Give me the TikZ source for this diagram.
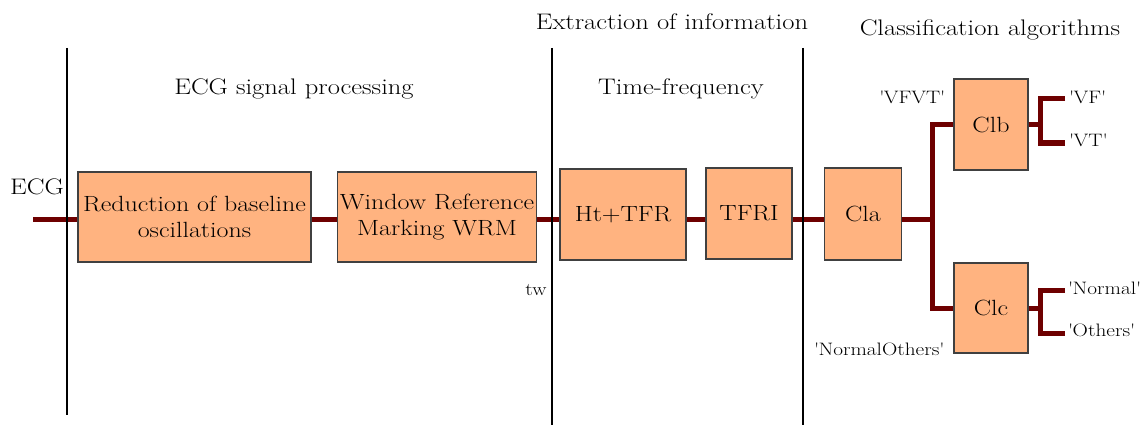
\documentclass[tikz,border=0pt]{standalone}
\usepackage{fontspec}
\setmainfont{Latin Modern Roman}[FakeStretch=1.18]
\usetikzlibrary{calc}
\definecolor{boxfill}{HTML}{FFB380}
\definecolor{wire}{HTML}{6E0000}
\newcommand{\sq}{\textquotesingle}
\tikzset{
  stage/.style={draw=black!75, line width=1.1pt, fill=boxfill, align=center,
    inner sep=2pt, font=\fontsize{22}{26}\selectfont},
  wirel/.style={draw=wire, line width=5pt},
  divider/.style={draw=black, line width=2.6pt},
  title/.style={font=\fontsize{22.5}{26}\selectfont},
  lab/.style={font=\fontsize{18}{21}\selectfont, inner sep=1pt},
}
\begin{document}
\begin{tikzpicture}[x=1pt,y=-1pt]
\useasboundingbox (0,0) rectangle (1148,425);

% section dividers
\coordinate (d1t) at (67,48);  \coordinate (d1b) at (67,415);
\coordinate (d2t) at (552,48); \coordinate (d2b) at (552,425);
\coordinate (d3t) at (803,48); \coordinate (d3b) at (803,425);

% section titles
\node[title] (tsig) at (294,89) {ECG signal processing};
\node[title] (ttf) at (681,89) {Time-frequency};
\node[title] (text) at (672,22) {Extraction of information};
\node[title] (tcls) at (990,30) {Classification algorithms};

% main signal level
\coordinate (main) at (0,219);
\coordinate (ecgin) at (33,219);
\node[title, anchor=west, inner sep=0pt] (ecg) at (10,187) {ECG};

% processing stages
\node[stage, minimum width=233pt, minimum height=90pt] (b1) at (194.5,217)
  {Reduction of baseline\\oscillations};
\node[stage, minimum width=198pt, minimum height=90pt] (b2) at (437,217)
  {Window Reference\\Marking WRM};
\node[stage, minimum width=126pt, minimum height=91pt] (b3) at (623,214.5) {Ht+TFR};
\node[stage, minimum width=86pt, minimum height=91pt] (b4) at (749,213.5) {TFRI};
\node[stage, minimum width=77pt, minimum height=92pt] (b5) at (863,214) {Cla};
\node[stage, minimum width=74pt, minimum height=91pt] (clb) at (991,124.5) {Clb};
\node[stage, minimum width=74pt, minimum height=90pt] (clc) at (991,308) {Clc};

\node[lab] (tw) at (536,290) {tw};
\node[lab] (vfvt) at (912,97) {\sq VFVT\sq};
\node[lab] (normoth) at (879,349) {\sq NormalOthers\sq};

% wiring between stages
\coordinate (fork) at (932,219);
\draw[wirel] (ecgin) -- (b1.west |- main);
\draw[wirel] (b1.east |- main) -- (b2.west |- main);
\draw[wirel] (b2.east |- main) -- (b3.west |- main);
\draw[wirel] (b3.east |- main) -- (b4.west |- main);
\draw[wirel] (b4.east |- main) -- (b5.west |- main);
\draw[wirel] (b5.east |- main) -- (fork);
\draw[wirel] (clb.west) -| (fork) |- (clc.west);

% outputs of the second-level classifiers
\coordinate (vfend) at (1065,99);
\coordinate (vtend) at (1065,143);
\coordinate (normend) at (1065,290);
\coordinate (othend) at (1065,333);
\coordinate (bsplit) at ($(clb.east)+(12,0)$);
\coordinate (csplit) at ($(clc.east)+(12,0)$);
\draw[wirel] (clb.east) -- (bsplit);
\draw[wirel] (vfend) -| (bsplit) |- (vtend);
\draw[wirel] (clc.east) -- (csplit);
\draw[wirel] (normend) -| (csplit) |- (othend);

\node[lab, anchor=west] (vf) at (1068,97) {\sq VF\sq};
\node[lab, anchor=west] (vt) at (1068,140) {\sq VT\sq};
\node[lab, anchor=west] (norm) at (1067,288) {\sq Normal\sq};
\node[lab, anchor=west] (oth) at (1067,330) {\sq Others\sq};

% dividers drawn on top of the wires
\draw[divider] (d1t) -- (d1b);
\draw[divider] (d2t) -- (d2b);
\draw[divider] (d3t) -- (d3b);
\end{tikzpicture}
\end{document}
